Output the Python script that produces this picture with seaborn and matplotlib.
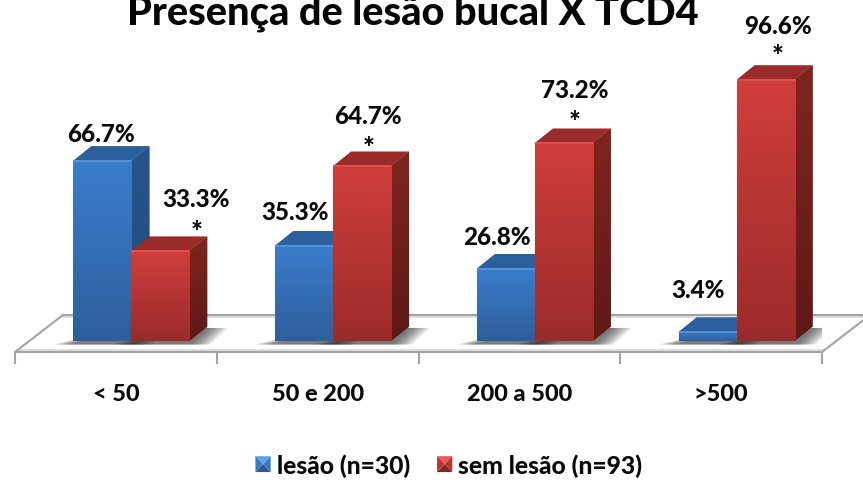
import numpy as np
import pandas as pd
import matplotlib
matplotlib.use("Agg")
import matplotlib.pyplot as plt
from matplotlib.patches import Polygon, Patch
from matplotlib.legend_handler import HandlerBase
import seaborn as sns

categories = ["< 50", "50 e 200", "200 a 500", ">500"]
series_names = ["lesão (n=30)", "sem lesão (n=93)"]
lesao = [66.7, 35.3, 26.8, 3.4]
sem_lesao = [33.3, 64.7, 73.2, 96.6]
title = "Presença de lesão bucal X TCD4"

W, H = 863, 481
sns.set_theme(style="white")
plt.rcParams["font.family"] = ["Lato", "DejaVu Sans"]
HEAVY = 900

df = pd.DataFrame({
    "cat": categories * 2,
    "serie": [series_names[0]] * 4 + [series_names[1]] * 4,
    "val": lesao + sem_lesao,
})

fig = plt.figure(figsize=(W / 100, H / 100), dpi=100, facecolor="white")
PX_BOTTOM = 353
ax = fig.add_axes([15 / W, (H - PX_BOTTOM) / H, 807 / W, PX_BOTTOM / H])
ax.patch.set_alpha(0)

FRONT = ["#3b7dcb", "#d03e3b"]
FRONT_BOT = ["#2e5f9c", "#9a2b2a"]
EDGE = ["#5c97dc", "#dd5652"]
SIDE = [("#27568c", "#234a78"), ("#80251f", "#5e1917")]
TOP = ["#2b5f9e", "#992c29"]

sns.barplot(data=df, x="cat", y="val", hue="serie", hue_order=series_names,
            palette=FRONT, width=0.575, gap=0, dodge=True, saturation=1,
            ax=ax, legend=False, edgecolor="none", linewidth=0)
bars_by_series = [list(c) for c in ax.containers]

px_x = 201.75
px_y = 2.705
xlim = (-0.5, 3.5)
ylim = (-11 / px_y, 342 / px_y)
ax.set_xlim(xlim)
ax.set_ylim(ylim)
shift = 15.5 / px_x
dx, dy = 18 / px_x, 14.5 / px_y


def grad(x0, x1, y0, y1, c_top, c_bot, clip=None, z=1.0):
    a = np.array(matplotlib.colors.to_rgb(c_top))
    b = np.array(matplotlib.colors.to_rgb(c_bot))
    t = np.linspace(0, 1, 64)[:, None]
    img = (a * (1 - t) + b * t)[:, None, :]
    im = ax.imshow(img, extent=(x0, x1, y0, y1), aspect="auto", origin="upper",
                   zorder=z, interpolation="bilinear")
    if clip is not None:
        im.set_clip_path(clip)
    return im


# floor
fy = ylim[0]
bx, by = 48 / px_x, 37 / px_y
gray = "#a3a3a3"
ax.plot([-0.5 + bx, 3.5 + bx], [fy + by - 1.8 / px_y] * 2, color="#dedede", lw=1.6, zorder=0.6, clip_on=False)
ax.plot([-0.5 + 2 / px_x, 3.5 + 1 / px_x], [fy + 2 / px_y] * 2, color="#dedede", lw=1.4, zorder=0.6, clip_on=False)
ax.plot([-0.5, -0.5 + bx, 3.5 + bx], [fy, fy + by, fy + by], color=gray, lw=1.5, zorder=0.7, clip_on=False)
ax.plot([3.5, 3.5 + bx], [fy, fy + by], color=gray, lw=1.5, zorder=0.7, clip_on=False)

order = sorted([(b, i) for i, s in enumerate(bars_by_series) for b in s], key=lambda t: t[0].get_x())
z = 2.0
for b, idx in order:
    b.set_x(b.get_x() + shift)
    x0, x1 = b.get_x(), b.get_x() + b.get_width()
    h = b.get_height()
    # soft shadow on the floor
    for k in range(8):
        g = (8 - k) * 2.6
        sh = Polygon([(x0 - g / px_x, -3.5 / px_y), (x1 + g / px_x, -3.5 / px_y),
                      (x1 + dx + g / px_x, dy * 0.9), (x1 - 6 / px_x, dy * 0.9)],
                     closed=True, fc="#202020", ec="none", alpha=0.1, zorder=0.8)
        ax.add_patch(sh)
    b.set_zorder(z + 0.3)
    grad(x0, x1, 0, h, FRONT[idx], FRONT_BOT[idx], z=z + 0.35)
    side = Polygon([(x1, 0), (x1 + dx, dy), (x1 + dx, h + dy), (x1, h)], closed=True,
                   fc=SIDE[idx][0], ec="none", zorder=z)
    ax.add_patch(side)
    grad(x1, x1 + dx, 0, h + dy, SIDE[idx][0], SIDE[idx][1], clip=side, z=z + 0.01)
    ax.add_patch(Polygon([(x0, h), (x1, h), (x1 + dx, h + dy), (x0 + dx, h + dy)], closed=True,
                         fc=TOP[idx], ec="none", zorder=z + 0.1))
    ax.plot([x0, x1], [h, h], color=EDGE[idx], lw=1.2, zorder=z + 0.4, solid_capstyle="butt")
    z += 1

ax.set_xlim(xlim)
ax.set_ylim(ylim)

# axis
for s in ["top", "left", "right"]:
    ax.spines[s].set_visible(False)
ax.spines["bottom"].set_color(gray)
ax.spines["bottom"].set_linewidth(1.5)
ax.set_xlabel("")
ax.set_ylabel("")
ax.set_yticks([])
ax.set_xticks(np.arange(-0.5, 4), labels=[""] * 5)
ax.tick_params(axis="x", which="major", length=8.5, width=1.5, color=gray, bottom=True)
ax.set_xticks(range(4), labels=categories, minor=True)
ax.tick_params(axis="x", which="minor", length=0, pad=22, labelsize=16.9)
for t in ax.get_xticklabels(minor=True):
    t.set_fontweight(HEAVY)
    t.set_color("#0a0a0a")

# value labels
lbl_off_b = [(-1, 27), (-9, 34), (-9, 32), (-10, 42)]
lbl_off_r = [(36, 52), (6, 50), (11, 53), (12, 54)]
star_off_r = [(36, 19), (6, 18), (11, 21), (12, 24)]
kw = dict(textcoords="offset pixels", ha="center", va="center", fontweight=HEAVY,
          fontsize=17.4, color="#0a0a0a", zorder=40, annotation_clip=False)
star_kw = dict(kw, fontsize=20)
for b, v, o in zip(bars_by_series[0], lesao, lbl_off_b):
    ax.annotate(f"{v:.1f}%", (b.get_x() + b.get_width() / 2, v), xytext=o, **kw)
for b, v, o, so in zip(bars_by_series[1], sem_lesao, lbl_off_r, star_off_r):
    ax.annotate(f"{v:.1f}%", (b.get_x() + b.get_width() / 2, v), xytext=o, **kw)
    ax.annotate("*", (b.get_x() + b.get_width() / 2, v), xytext=so, **star_kw)

fig.text(413 / W, 1 - 24 / H, title, ha="center", va="baseline", fontsize=28.6,
         fontweight=HEAVY, color="#050505")


# legend
class PyramidHandler(HandlerBase):
    def __init__(self, shades):
        super().__init__()
        self.shades = shades

    def create_artists(self, legend, orig, xd, yd, w, h, fs, trans):
        x0, y0 = -xd, -yd
        c = (x0 + w / 2, y0 + h / 2)
        tl, tr, br, bl = (x0, y0 + h), (x0 + w, y0 + h), (x0 + w, y0), (x0, y0)
        top, mid, bot = self.shades
        faces = [((tl, tr, c), top), ((bl, br, c), bot), ((tl, bl, c), mid), ((tr, br, c), mid)]
        return [Polygon(p, closed=True, fc=col, ec="none", transform=trans) for p, col in faces]


handles = [Patch(label=series_names[0]), Patch(label=series_names[1])]
leg = fig.legend(handles, series_names, ncol=2, loc="center", bbox_to_anchor=(449 / W, 1 - 466 / H),
                 frameon=False, prop={"weight": HEAVY, "size": 17.7},
                 handlelength=0.62, handleheight=0.62, handletextpad=0.25, columnspacing=1.1,
                 borderpad=0, borderaxespad=0,
                 handler_map={handles[0]: PyramidHandler(("#5aa6ec", "#3a78c2", "#2c5a91")),
                              handles[1]: PyramidHandler(("#e85a55", "#b9332f", "#7f2422"))})
for t in leg.get_texts():
    t.set_color("#0a0a0a")

fig.savefig("out.png", dpi=100)
